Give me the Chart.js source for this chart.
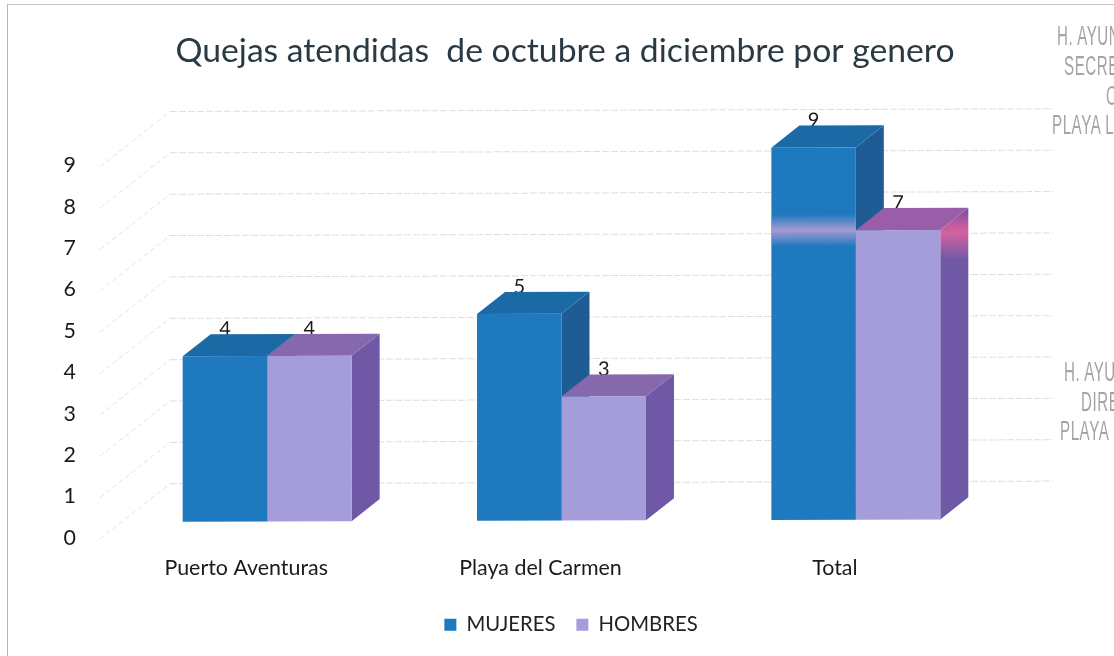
<!DOCTYPE html>
<html><head><meta charset="utf-8">
<script src="https://cdn.jsdelivr.net/npm/chart.js@4/dist/chart.umd.min.js"></script>
<style>
html,body{margin:0;padding:0;background:#fff;overflow:hidden}
#wrap{position:relative;width:1114px;height:656px}
#frame{position:absolute;left:7px;top:4px;right:0;bottom:0;border-left:1px solid #b4b4b4;border-top:1px solid #c4c4c4}
canvas{position:absolute;left:0;top:0}
.st{position:absolute;font:27px "Liberation Sans Narrow","Liberation Sans",sans-serif;color:#a4a4a4;letter-spacing:1px;white-space:nowrap;line-height:24px;transform:scaleX(.56);transform-origin:left}
</style></head><body>
<div id="wrap"><div id="frame"></div>
<canvas id="c" width="1114" height="656"></canvas>
<div class="st" style="left:1057px;top:24px">H. AYUN</div>
<div class="st" style="left:1064px;top:54px">SECRE</div>
<div class="st" style="left:1106px;top:84px">O</div>
<div class="st" style="left:1052px;top:113px">PLAYA L</div>
<div class="st" style="left:1064px;top:360px">H. AYU</div>
<div class="st" style="left:1081px;top:390px">DIRE</div>
<div class="st" style="left:1060px;top:419px">PLAYA</div>
</div>
<script>
const categories = ["Puerto Aventuras", "Playa del Carmen", "Total"];
const mujeres = [4, 5, 9];
const hombres = [4, 3, 7];
const seriesNames = ["MUJERES", "HOMBRES"];
const titleText = "Quejas atendidas  de octubre a diciembre por genero";
const yMin = 0, yMax = 9;

const FONT = 'Lato, "Open Sans", sans-serif';
const BAR_DX = 28, BAR_DY = 22;        // bar depth
const WALL_DX = 50, WALL_DY = 38;      // bar plane -> back wall
const FLOOR_DX = 20, FLOOR_DY = 17;    // bar plane -> front axis edge
const WALL_RIGHT = 1053;
const SHEAR = 0.003;                   // scan tilt of the reference
const faces = [
  {front:"#1e79bf", top:"#1b6aa5", side:"#1f5c96"},
  {front:"#a59dd9", top:"#8668ad", side:"#6f58a6"}
];

function tilt(ctx, x0){ ctx.transform(1, -SHEAR, 0, 1, 0, SHEAR * x0); }

function poly(ctx, pts, fill){
  ctx.beginPath();
  pts.forEach((p,i)=> i ? ctx.lineTo(p[0],p[1]) : ctx.moveTo(p[0],p[1]));
  ctx.closePath();
  ctx.fillStyle = fill;
  ctx.fill();
}

const box3d = {
  id: "box3d",
  afterLayout(chart){
    const shift = (box, c) => { const w = 1130; box.left = c - w/2; box.right = c + w/2; };
    shift(chart.titleBlock, 565);
    shift(chart.legend, 571);
    chart.legend.top -= 11; chart.legend.bottom -= 11;
  },
  beforeDatasetsDraw(chart){
    const {ctx, scales:{x, y}} = chart;
    const left = chart.chartArea.left;
    ctx.save();
    tilt(ctx, 183);
    // walls: perspective grid
    for (let v = yMin; v <= yMax; v++){
      const py = y.getPixelForValue(v);
      ctx.strokeStyle = "#dedede"; ctx.lineWidth = 1;
      ctx.setLineDash([7,2]);
      ctx.beginPath();
      ctx.moveTo(left + WALL_DX, py - WALL_DY);
      ctx.lineTo(WALL_RIGHT, py - WALL_DY);
      ctx.stroke();
      ctx.strokeStyle = "#e8e8e8";
      ctx.setLineDash([5,3]);
      ctx.beginPath();
      ctx.moveTo(left - FLOOR_DX, py + FLOOR_DY);
      ctx.lineTo(left + WALL_DX, py - WALL_DY);
      ctx.stroke();
    }
    ctx.setLineDash([]);

    // value labels first: the box tops cover their feet
    ctx.font = "20px " + FONT; ctx.textAlign = "center"; ctx.textBaseline = "middle"; ctx.fillStyle = "#1a1a1a";
    chart.data.datasets.forEach((ds, d) => {
      chart.getDatasetMeta(d).data.forEach((b, i) => {
        ctx.fillText(String(ds.data[i]), b.x, b.y - BAR_DY - 5);
      });
    });
    // side and top faces; series drawn in order so the later one hides the earlier
    chart.data.datasets.forEach((ds, d) => {
      chart.getDatasetMeta(d).data.forEach((b, i) => {
        const l = b.x - b.width/2, r = b.x + b.width/2, t = b.y, base = b.base;
        let side = faces[d].side, top = faces[d].top;
        if (d === 1 && i === 2){
          const g = ctx.createLinearGradient(0, t - BAR_DY, 0, t + 30);
          g.addColorStop(0, "#6d4f9f"); g.addColorStop(.35, "#c85c9f");
          g.addColorStop(.5, "#d0629f"); g.addColorStop(1, "#6f58a6");
          side = g; top = "#9a5ea8";
        }
        poly(ctx, [[r,t],[r+BAR_DX,t-BAR_DY],[r+BAR_DX,base-BAR_DY],[r,base]], side);
        poly(ctx, [[l,t],[l+BAR_DX,t-BAR_DY],[r+BAR_DX,t-BAR_DY],[r,t]], top);
      });
    });
  },
  afterDatasetsDraw(chart){
    const {ctx, scales:{y}} = chart;
    // scanner streak across the tall bar at the height of the second series
    const b = chart.getDatasetMeta(0).data[2];
    const cy = y.getPixelForValue(hombres[2]);
    const g = ctx.createLinearGradient(0, cy - 16, 0, cy + 16);
    g.addColorStop(0, "rgba(190,160,215,0)");
    g.addColorStop(.5, "rgba(190,160,215,.85)");
    g.addColorStop(1, "rgba(190,160,215,0)");
    ctx.fillStyle = g;
    ctx.fillRect(b.x - b.width/2, cy - 16, b.width, 32);
    ctx.restore();
  }
};

new Chart(document.getElementById("c"), {
  type: "bar",
  data: {
    labels: categories,
    datasets: [
      {label: seriesNames[0], data: mujeres, backgroundColor: faces[0].front, clip: false},
      {label: seriesNames[1], data: hombres, backgroundColor: faces[1].front, clip: false}
    ]
  },
  plugins: [box3d],
  options: {
    responsive: false,
    animation: false,
    layout: {padding: {left: 0, right: 111, top: 0, bottom: 0}},
    datasets: {bar: {barPercentage: 1, categoryPercentage: 0.574}},
    plugins: {
      tooltip: {enabled: false},
      title: {display: true, text: titleText, color: "#2a3a44",
        font: {family: FONT, size: 33.7, weight: "normal"}, padding: {top: 31, bottom: 78}},
      legend: {position: "bottom",
        labels: {color: "#222", boxWidth: 12, boxHeight: 12, padding: 21,
          font: {family: FONT, size: 20.3}}}
    },
    scales: {
      x: {
        afterFit(s){ s.height = 83; },
        grid: {display: false}, border: {display: false},
        ticks: {color: "#1a1a1a", font: {family: FONT, size: 21.4}, padding: 26, labelOffset: -21, maxRotation: 0}
      },
      y: {
        min: yMin, max: yMax,
        afterFit(s){ s.width = 120; },
        grid: {display: false}, border: {display: false},
        ticks: {stepSize: 1, color: "#1a1a1a", font: {family: FONT, size: 21.4}, padding: 36, labelOffset: 16}
      }
    }
  }
});
</script>
</body></html>
